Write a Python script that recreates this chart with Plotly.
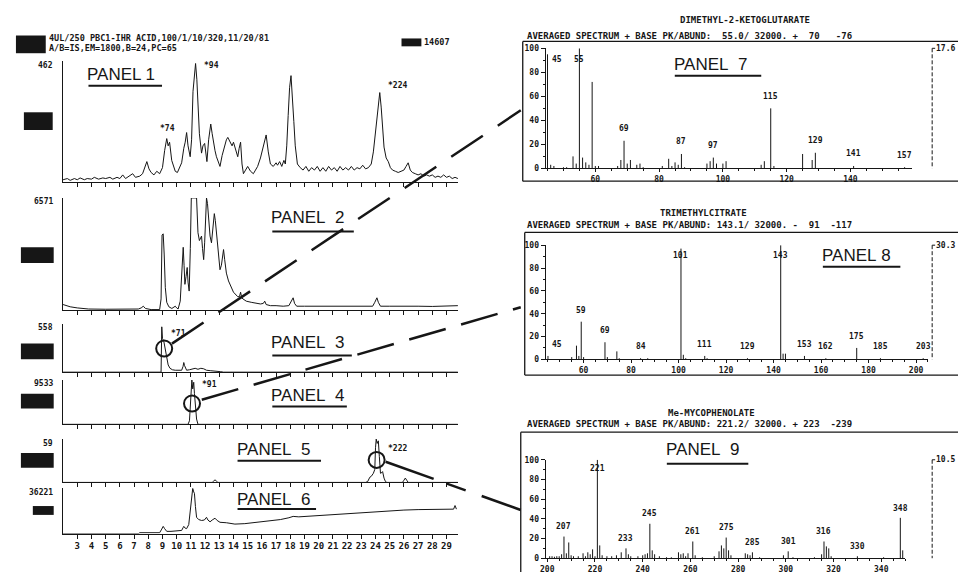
import plotly.graph_objects as go

W, H = 958, 577
MONO = "DejaVu Sans Mono"
SANS = "Liberation Sans"
INK = "#161616"


def fx(p):
    return p / W


def fy(p):
    return 1 - p / H


# ---------------- DATA ----------------
scan_ticks = list(range(3, 30))

# Panel 1 : reconstructed total ion current (% of 462)
p1_t = [2.0, 2.3, 2.5, 2.8, 3.0, 3.2, 3.5, 3.7, 4.0, 4.2,
        4.5, 4.8, 5.0, 5.3, 5.5, 5.8, 6.0, 6.2, 6.4, 6.6,
        6.9, 7.1, 7.4, 7.6, 7.9, 8.05, 8.2, 8.4, 8.6, 8.8,
        9.0, 9.15, 9.3, 9.4, 9.5, 9.65, 9.9, 10.05, 10.2, 10.35,
        10.5, 10.6, 10.7, 10.8, 10.95, 11.05, 11.15, 11.25, 11.33, 11.42,
        11.5, 11.6, 11.75, 11.85, 11.97, 12.05, 12.13, 12.25, 12.4, 12.5,
        12.6, 12.7, 12.8, 12.95, 13.05, 13.2, 13.4, 13.5, 13.6, 13.75,
        13.9, 14.0, 14.15, 14.3, 14.4, 14.5, 14.6, 14.7, 14.85, 15.0,
        15.2, 15.4, 15.55, 15.7, 15.9, 16.1, 16.3, 16.45, 16.6, 16.8,
        17.0, 17.1, 17.25, 17.4, 17.55, 17.65, 17.75, 17.85, 17.95, 18.05,
        18.15, 18.25, 18.35, 18.5, 18.7, 18.9, 19.1, 19.3, 19.5, 19.7,
        19.9, 20.1, 20.3, 20.5, 20.7, 20.9, 21.1, 21.3, 21.5, 21.7,
        21.9, 22.1, 22.3, 22.5, 22.7, 22.9, 23.1, 23.3, 23.5, 23.7,
        23.85, 24.0, 24.15, 24.3, 24.4, 24.5, 24.6, 24.75, 24.9, 25.05,
        25.2, 25.4, 25.6, 25.8, 26.0, 26.15, 26.3, 26.45, 26.6, 26.8,
        27.0, 27.2, 27.4, 27.6, 27.8, 28.0, 28.2, 28.4, 28.6, 28.8,
        29.0, 29.2, 29.4, 29.6, 29.8]
p1_v = [2, 3, 1.5, 3, 2, 3.5, 2, 3, 2.5, 4,
        2.5, 3.5, 3, 4, 2.5, 4, 3, 6, 3, 4.5,
        7, 4, 5, 7, 17, 11, 8, 6, 9, 7,
        12, 26, 36, 30, 33, 18, 9, 8, 12, 16,
        28, 33, 41, 30, 21, 35, 75, 90, 98, 85,
        67, 40, 24, 30, 32, 25, 17, 35, 48, 40,
        32, 26, 21, 15, 13, 22, 31, 35, 37, 34,
        30, 33, 26, 21, 28, 33, 15, 7, 10, 13,
        9, 7, 10, 13, 20, 30, 39, 25, 15, 13,
        16, 14, 17, 13, 18, 15, 30, 55, 78, 88,
        72, 50, 30, 15, 12, 10, 13, 9, 12, 10,
        13, 9, 12, 9, 13, 10, 12, 9, 13, 10,
        12, 10, 13, 10, 12, 11, 14, 11, 12, 15,
        25, 40, 60, 74, 62, 40, 29, 20, 17, 12,
        10, 9, 8, 9, 10, 13, 16, 10, 8, 7,
        6, 7, 5, 6, 5, 6, 4, 5, 4, 6,
        4, 5, 3, 4, 3]

# Panel 2 (% of 6571)
p2_t = [2.0, 2.5, 3.0, 3.8, 5.0, 6.5, 7.3, 7.5, 7.65, 7.8,
        8.2, 8.8, 8.9, 8.97, 9.05, 9.12, 9.2, 9.3, 9.45, 9.66,
        9.8, 9.9, 10.0, 10.1, 10.25, 10.35, 10.46, 10.52, 10.58, 10.66,
        10.74, 10.8, 10.88, 10.96, 11.03, 11.4, 11.45, 11.5, 11.6, 11.75,
        11.82, 11.9, 11.97, 12.05, 12.1, 12.17, 12.27, 12.35, 12.45, 12.55,
        12.65, 12.72, 12.8, 12.9, 13.0, 13.05, 13.15, 13.3, 13.38, 13.5,
        13.65, 13.84, 14.0, 14.3, 14.42, 14.5, 14.58, 14.67, 14.9, 15.25,
        15.6, 15.9, 16.1, 16.2, 16.3, 16.6, 17.0, 17.5, 17.9, 18.1,
        18.2, 18.3, 18.45, 19.0, 20.0, 21.0, 22.0, 23.0, 23.8, 23.95,
        24.1, 24.2, 24.35, 25.0, 26.0, 27.0, 28.0, 29.0, 29.8]
p2_v = [5, 3, 2, 1, 0.8, 0.5, 1, 2, 3.5, 1.5,
        0.5, 0.5, 10, 67, 68, 50, 20, 7, 3, 1.5,
        3, 3.5, 2, 1, 8, 38, 56, 40, 23, 30,
        38, 25, 17, 55, 100, 100, 85, 69, 62, 66,
        55, 45, 60, 90, 100, 95, 73, 66, 60, 75,
        86, 80, 69, 52, 42, 36, 40, 54, 45, 33,
        26, 20, 16, 12, 12, 16, 11, 10, 8, 7,
        6, 5.5, 6, 8, 5, 4, 4, 3.5, 4, 8,
        11, 6, 3.5, 3.5, 3.5, 3.2, 3.5, 3.3, 3.5, 7,
        11, 7, 3.5, 3.5, 3.2, 3.5, 3.3, 3.8, 4]

# Panel 3 (% of 558)
p3_t = [2.0, 8.9, 8.95, 9.0, 9.1, 9.2, 9.3, 9.4, 9.53, 9.7,
        9.9, 10.2, 10.35, 10.45, 10.5, 10.55, 10.7, 10.9, 11.1, 11.3,
        11.5, 11.7, 11.9, 12.1, 12.4, 12.8, 13.1, 13.3, 29.8]
p3_v = [0, 0, 94, 70, 63, 45, 29, 15, 8, 5,
        4, 3, 4, 12, 20, 14, 4, 5, 7, 8,
        6, 8, 7, 4, 3, 2.5, 1, 0, 0]

# Panel 4 (% of 9533)
p4_t = [2.0, 10.8, 10.9, 10.95, 11.02, 11.07, 11.13, 11.2, 11.25, 11.3, 11.4, 11.5, 29.8]
p4_v = [0, 0, 8, 38, 85, 100, 80, 95, 70, 44, 12, 0, 0]

# Panel 5 (% of 59)
p5_t = [2.0, 8.1, 8.2, 8.3, 12.5, 12.6, 12.7, 12.8, 12.9, 23.3,
        23.45, 23.6, 23.7, 23.85, 23.95, 24.0, 24.05, 24.12, 24.2, 24.27,
        24.35, 24.45, 24.5, 24.6, 24.7, 24.8, 25.9, 26.0, 26.1, 26.2,
        26.3, 29.8]
p5_v = [0, 0, 1.5, 0, 0, 3, 6, 3, 0, 0,
        2, 12, 14, 21, 30, 80, 100, 90, 96, 60,
        21, 23, 25, 10, 2, 0, 0, 5, 10, 5,
        0, 0]

# Panel 6 (% of 36221)
p6_t = [2.0, 7.3, 7.4, 8.8, 8.95, 9.05, 9.15, 9.3, 9.6, 10.0,
        10.35, 10.45, 10.5, 10.6, 10.7, 10.85, 11.0, 11.08, 11.13, 11.2,
        11.25, 11.32, 11.4, 11.55, 11.75, 11.95, 12.05, 12.1, 12.2, 12.35,
        12.5, 12.7, 12.85, 13.05, 13.5, 14.1, 14.8, 15.7, 16.5, 17.3,
        17.9, 18.2, 18.6, 19.5, 20.5, 21.4, 22.3, 23.2, 24.1, 25.0,
        26.0, 27.0, 28.0, 29.0, 29.5, 29.6, 29.65, 29.7]
p6_v = [0, 0, 2, 2, 10, 16, 11, 5, 5, 6,
        7, 13, 16, 12, 11, 20, 61, 95, 100, 92,
        89, 60, 36, 31, 29, 30, 34, 36, 30, 26,
        30, 34, 29, 25, 24, 21, 22, 25, 28, 31,
        35, 38, 37, 39, 41, 43, 44, 46, 48, 50,
        52, 53, 53, 54, 54, 62, 58, 54]

full_scale = ["462", "6571", "558", "9533", "59", "36221"]

# Panel 7 : dimethyl-2-ketoglutarate
p7_mz = [45, 46, 47, 50, 51, 53, 54, 55, 56, 57,
         58, 59, 60, 61, 67, 68, 69, 70, 71, 73,
         74, 75, 81, 83, 84, 85, 86, 87, 88, 95,
         96, 97, 98, 100, 101, 112, 113, 115, 116, 125,
         128, 129, 141, 157]
p7_ab = [95, 3, 2, 1, 1, 10, 4, 100, 9, 5,
         3, 72, 2, 2, 2, 7, 23, 4, 7, 3,
         4, 1, 2, 8, 2, 5, 3, 12, 1, 4,
         6, 9, 4, 4, 6, 3, 6, 50, 2, 12,
         7, 13, 2, 1]
p7_labels = [45, 55, 69, 87, 97, 115, 129, 141, 157]

# Panel 8 : trimethylcitrate
p8_mz = [45, 55, 57, 58, 59, 60, 69, 70, 74, 75,
         84, 87, 101, 102, 103, 111, 112, 129, 143, 144,
         145, 153, 162, 175, 185, 203]
p8_ab = [3, 2, 12, 3, 33, 2, 15, 2, 7, 1,
         1, 1, 97, 4, 1, 3, 1, 1, 100, 5,
         5, 3, 1, 10, 1, 1]
p8_labels = [45, 59, 69, 84, 101, 111, 129, 143, 153, 162, 175, 185, 203]

# Panel 9 : Me-mycophenolate
p9_mz = [201, 202, 203, 204, 205, 206, 207, 208, 209, 210,
         211, 213, 215, 216, 217, 218, 219, 220, 221, 222,
         223, 225, 227, 229, 231, 233, 234, 235, 238, 240,
         241, 242, 243, 244, 245, 247, 250, 252, 255, 256,
         257, 258, 259, 261, 262, 265, 270, 272, 273, 274,
         275, 276, 277, 283, 284, 285, 286, 289, 299, 301,
         303, 312, 315, 316, 317, 318, 319, 330, 341, 348,
         349]
p9_ab = [2, 2, 1.5, 2, 2, 4, 22, 5, 16, 3,
         2, 2, 5, 2, 6, 4, 9, 2, 100, 13,
         3, 2, 2, 3, 6, 10, 4, 2, 2, 3,
         4, 5, 35, 8, 4, 2, 1, 1, 6, 4,
         5, 2, 5, 17, 3, 1, 2, 7, 13, 10,
         21, 8, 3, 5, 4, 3, 6, 1, 3, 7,
         1, 1, 4, 17, 12, 10, 2, 2, 1, 41,
         8]
p9_label_mz = [207, 221, 233, 243, 261, 275, 286, 301, 316, 330, 348]
p9_label_txt = ["207", "221", "233", "245", "261", "275", "285", "301", "316", "330", "348"]

# ---------------- FIGURE ----------------
fig = go.Figure()
layout = dict(width=W, height=H, margin=dict(l=0, r=0, t=0, b=0),
              paper_bgcolor="white", plot_bgcolor="white", showlegend=False)
shapes = []
annotations = []


def txt(x, y, s, size=8, anchor="left", family=MONO, weight="bold"):
    annotations.append(dict(xref="paper", yref="paper", x=fx(x), y=fy(y), text=s,
                            showarrow=False, xanchor=anchor, yanchor="middle",
                            borderpad=0,
                            font=dict(family=family, size=size, color=INK, weight=weight)))


def rect(x0, y0, x1, y1):
    shapes.append(dict(type="rect", xref="paper", yref="paper", x0=fx(x0), x1=fx(x1),
                       y0=fy(y1), y1=fy(y0), fillcolor=INK, line=dict(width=0)))


def seg(x0, y0, x1, y1, w=1.0, dash="solid"):
    shapes.append(dict(type="line", xref="paper", yref="paper", x0=fx(x0), y0=fy(y0),
                       x1=fx(x1), y1=fy(y1), line=dict(color=INK, width=w, dash=dash)))


# --- left chromatogram panels ---
left = [
    (p1_t, p1_v, 58, 181),
    (p2_t, p2_v, 197, 311),
    (p3_t, p3_v, 325, 374),
    (p4_t, p4_v, 382, 427),
    (p5_t, p5_v, 442, 486),
    (p6_t, p6_v, 492, 538),
]
for i, (t, v, top, bot) in enumerate(left, start=1):
    sx = "" if i == 1 else str(i)
    fig.add_trace(go.Scatter(x=t, y=v, mode="lines", xaxis="x" + sx, yaxis="y" + sx,
                             line=dict(color=INK, width=1), hoverinfo="skip"))
    layout["xaxis" + sx] = dict(domain=[fx(57), fx(455)], range=[1.97, 29.82], anchor="y" + sx,
                                showline=True, linecolor=INK, linewidth=1, ticks="outside",
                                tickvals=scan_ticks, ticklen=4, tickcolor=INK, tickwidth=1,
                                showticklabels=(i == 6), showgrid=False, zeroline=False,
                                tickfont=dict(family=MONO, size=9, color=INK, weight="bold"))
    layout["yaxis" + sx] = dict(domain=[fy(bot), fy(top)], range=[0, 100], anchor="x" + sx,
                                showline=True, linecolor=INK, linewidth=1, ticks="",
                                showticklabels=False, showgrid=False, zeroline=False)
    txt(48, top + 4, full_scale[i - 1], size=8, anchor="right")

# black boxes left of panels and in the header
for (x0, y0, x1, y1) in [(18, 110, 47, 128), (15, 247, 48, 263), (15, 345, 48, 361),
                         (15, 396, 48, 411), (15, 456, 48, 471), (27, 510, 48, 519),
                         (10, 32, 40, 50), (398, 35, 418, 43)]:
    rect(x0, y0, x1, y1)

txt(42, 35, "4UL/250 PBC1-IHR ACID,100/1/10/320,11/20/81", size=8.5)
txt(42, 45, "A/B=IS,EM=1800,B=24,PC=65", size=8.5)
txt(420, 39, "14607", size=8.5)

# scan-number peak labels
peak_tags = [  # (axis suffix, t, v, text, xanchor, xshift, yshift)
    ("", 11.33, 98, "*94", "left", 6, -2),
    ("", 9.32, 36, "*74", "center", 0, 10),
    ("", 24.3, 74, "*224", "left", 6, 7),
    ("3", 8.97, 94, "*71", "left", 7, -7),
    ("4", 11.07, 100, "*91", "left", 8, -4),
    ("5", 24.05, 100, "*222", "left", 10, -9),
]
for sx, t, v, s, xa, xs, ys in peak_tags:
    annotations.append(dict(xref="x" + sx, yref="y" + sx, x=t, y=v, text=s, showarrow=False,
                            xanchor=xa, yanchor="middle", xshift=xs, yshift=ys,
                            font=dict(family=MONO, size=8, color=INK, weight="bold")))

# circles marking the spectra scans
for sx, t, v in [("3", 9.12, 49), ("4", 11.08, 47), ("5", 24.08, 52)]:
    fig.add_trace(go.Scatter(x=[t], y=[v], mode="markers", xaxis="x" + sx, yaxis="y" + sx,
                             cliponaxis=False, hoverinfo="skip",
                             marker=dict(symbol="circle-open", size=16, color=INK,
                                         line=dict(width=2, color=INK))))

# PANEL labels (text, left x, centre y, underline y, underline right x)
panel_tags = [
    ("PANEL 1", 83, 72, 83, 157),
    ("PANEL\u00a0\u00a02", 268, 217, 231, 350),
    ("PANEL\u00a0\u00a03", 268, 344, 357, 348),
    ("PANEL\u00a0\u00a04", 268, 398, 409, 343),
    ("PANEL\u00a0\u00a05", 233, 453, 464, 317),
    ("PANEL\u00a0\u00a06", 233, 503, 513, 312),
    ("PANEL\u00a0\u00a07", 673, 61, 73, 760),
    ("PANEL\u00a08", 822, 255, 267, 900),
    ("PANEL\u00a0\u00a09", 665, 453, 467, 747),
]
for s, x0, yc, yu, x1 in panel_tags:
    txt(x0 - 2, yc, s, size=17, family=SANS, weight="normal")
    seg(x0, yu, x1, yu, w=2)

# --- right spectrum panels ---
spectra = [
    (p7_mz, p7_ab, p7_labels, [str(m) for m in p7_labels], (543, 912), (44.4, 159.4), (45, 167),
     [60, 80, 100, 120, 140], "DIMETHYL-2-KETOGLUTARATE",
     "AVERAGED SPECTRUM + BASE PK/ABUND:\u00a0\u00a055.0/ 32000. +\u00a0\u00a070\u00a0\u00a0\u00a0-76",
     "17.6", (677, 16, 32, 38, 180, 520)),
    (p8_mz, p8_ab, p8_labels, [str(m) for m in p8_labels], (543, 928), (44.0, 205.1), (245, 361),
     [60, 80, 100, 120, 140, 160, 180, 200], "TRIMETHYLCITRATE",
     "AVERAGED SPECTRUM + BASE PK/ABUND: 143.1/ 32000. -\u00a0\u00a091\u00a0\u00a0-117",
     "30.3", (657, 212, 225, 232, 377, 522)),
    (p9_mz, p9_ab, p9_label_mz, p9_label_txt, (543, 905), (199.3, 350.1), (463, 563),
     [200, 220, 240, 260, 280, 300, 320, 340], "Me-MYCOPHENOLATE",
     "AVERAGED SPECTRUM + BASE PK/ABUND: 221.2/ 32000. + 223\u00a0\u00a0-239",
     "10.5", (665, 415, 427, 435, 600, 518)),
]
for k, (mz, ab, lab_mz, lab_txt, xd, xr, yd, xt, title, head, scale, fr) in enumerate(spectra, start=7):
    sx = str(k)
    xs, ys = [], []
    for m, a in zip(mz, ab):
        xs += [m, m, None]
        ys += [0, a, None]
    fig.add_trace(go.Scatter(x=xs, y=ys, mode="lines", xaxis="x" + sx, yaxis="y" + sx,
                             line=dict(color=INK, width=1), hoverinfo="skip"))
    minor_x = [m for m in range(int(xr[0]) + 1, int(xr[1]) + 1) if m % 5 == 0 and m % 20 != 0]
    layout["xaxis" + sx] = dict(domain=[fx(xd[0]), fx(xd[1])], range=list(xr), anchor="y" + sx,
                                showline=True, linecolor=INK, linewidth=1, ticks="outside",
                                tickvals=xt, ticklen=3, tickcolor=INK, showgrid=False,
                                zeroline=False,
                                minor=dict(tickvals=minor_x, ticks="outside", ticklen=2,
                                           tickcolor=INK, showgrid=False),
                                tickfont=dict(family=MONO, size=8, color=INK, weight="bold"))
    layout["yaxis" + sx] = dict(domain=[fy(yd[1]), fy(yd[0])], range=[0, 100], anchor="x" + sx,
                                showline=True, linecolor=INK, linewidth=1, ticks="outside",
                                tickvals=[0, 20, 40, 60, 80, 100], ticklen=4, tickcolor=INK,
                                showgrid=False, zeroline=False,
                                minor=dict(tickvals=[10, 30, 50, 70, 90], ticks="outside",
                                           ticklen=2, tickcolor=INK, showgrid=False),
                                tickfont=dict(family=MONO, size=8, color=INK, weight="bold"))
    height = dict(zip(mz, ab))
    for m, s in zip(lab_mz, lab_txt):
        h = height.get(m, 0)
        left_edge = m == 45
        annotations.append(dict(xref="x" + sx, yref="y" + sx, x=m, y=min(h + 10, 91), text=s,
                                showarrow=False, xanchor="left" if left_edge else "center",
                                xshift=2 if left_edge else 0, yanchor="middle",
                                font=dict(family=MONO, size=8, color=INK, weight="bold")))
    tx, ty, hy, ftop, fbot, fleft = fr
    txt(tx, ty, title, size=9)
    txt(523, hy, head, size=9)
    # frame
    seg(fleft, ftop, 958, ftop, w=1.3)
    seg(fleft, ftop, fleft, min(fbot, 577), w=1.3)
    if fbot < 577:
        seg(fleft, fbot, 958, fbot, w=1.3)
    # right full-scale marker
    seg(932, yd[0], 932, yd[1], w=1, dash="4px,2px")
    seg(932, yd[0], 935, yd[0], w=1)
    txt(935, yd[0], scale, size=8)

# connecting dashed lines
seg(167, 345, 518, 108, w=2.5, dash="38px,18px")
seg(197, 402, 518, 308, w=2.5, dash="38px,16px")
seg(382, 465, 518, 514, w=2.5, dash="51px,14px,20px,17px,48px")

layout["shapes"] = shapes
layout["annotations"] = annotations
fig.update_layout(**layout)
fig.write_html("out.html",
               config={"displayModeBar": False, "staticPlot": True},
               post_script="document.body.style.margin='0';document.body.style.overflow='hidden';")
